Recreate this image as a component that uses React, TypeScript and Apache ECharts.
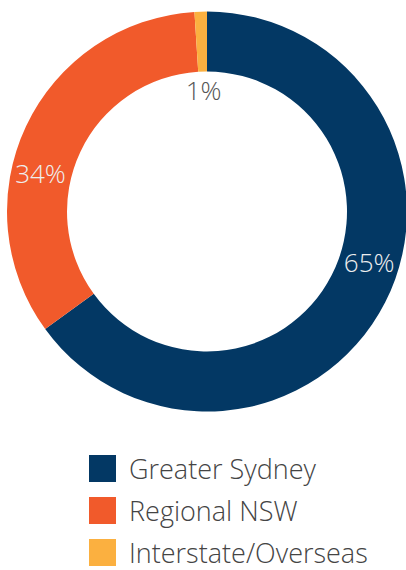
import React, { useEffect, useRef } from "react";
import * as echarts from "echarts";

const categories = ["Greater Sydney", "Regional NSW", "Interstate/Overseas"];
const values = [65, 34, 1];
const colors = ["#033864", "#F15A2B", "#FBB040"];
const labelColors = ["#eeeeee", "#eeeeee", "#555555"];
const labelOffsets: [number, number][] = [
  [8, -28],
  [-10, 35],
  [2, 51],
];

export default function App() {
  const ref = useRef<HTMLDivElement>(null);
  useEffect(() => {
    if (!ref.current) return;
    const chart = echarts.init(ref.current, undefined, { renderer: "svg" });
    const fontFamily = "'Open Sans', sans-serif";
    chart.setOption({
      animation: false,
      legend: {
        orient: "vertical",
        left: 89,
        top: 455,
        height: 140,
        padding: 0,
        itemWidth: 27,
        itemHeight: 27,
        itemGap: 15,
        icon: "rect",
        selectedMode: false,
        data: categories,
        textStyle: {
          color: "#444444",
          fontSize: 27,
          lineHeight: 26,
          fontFamily,
          fontWeight: 300,
          padding: [0, 0, 0, 8],
        },
      },
      series: [
        {
          type: "pie",
          center: [207, 211.5],
          radius: [140, 200],
          startAngle: 90,
          clockwise: true,
          avoidLabelOverlap: false,
          labelLine: { show: false },
          emphasis: { disabled: true },
          data: categories.map((name, i) => ({
            name,
            value: values[i],
            itemStyle: { color: colors[i] },
            label: {
              show: true,
              position: "inside",
              formatter: "{c}%",
              color: labelColors[i],
              fontSize: 26,
              fontFamily,
              fontWeight: 300,
              offset: labelOffsets[i],
            },
          })),
        },
      ],
    });
    return () => chart.dispose();
  }, []);
  return (
    <div
      ref={ref}
      style={{ position: "absolute", left: 0, top: 0, width: 406, height: 570 }}
    />
  );
}
